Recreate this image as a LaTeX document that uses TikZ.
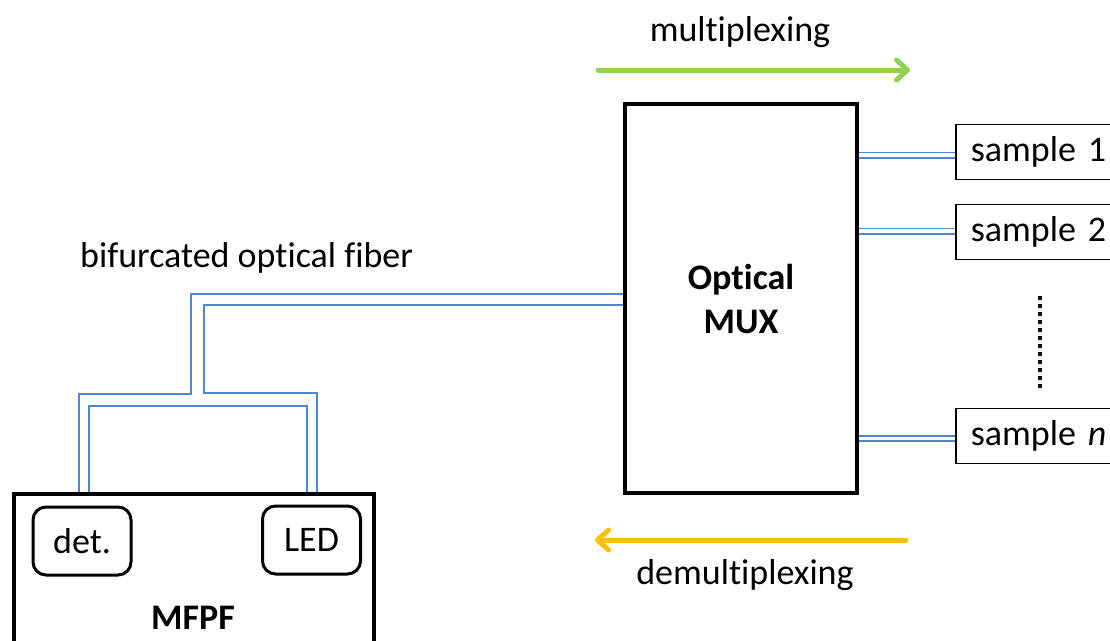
\documentclass[tikz,border=0pt]{standalone}
\usepackage{fontspec}
\setmainfont{Carlito}[Ligatures=NoCommon]
\usetikzlibrary{arrows.meta,calc}
\definecolor{fiberBlue}{RGB}{79,134,206}
\definecolor{muxGreen}{RGB}{146,208,80}
\definecolor{demuxOrange}{RGB}{255,192,0}
\tikzset{
  fiber/.style={draw=fiberBlue, line width=1.9pt},
  fiberpair/.style={draw=fiberBlue, line width=1.9pt, double=white, double distance=3.2pt},
  bigbox/.style={draw, line width=4pt},
  samplebox/.style={draw, line width=1.6pt, anchor=west, text width=140pt, align=left,
                    inner xsep=15pt, inner ysep=0pt, minimum height=55pt},
  partbox/.style={draw, line width=3pt, rounded corners=13pt,
                  minimum width=98pt, minimum height=68pt},
  flow/.style={line width=5pt, line cap=round,
               -{Straight Barb[length=11pt, width=20pt, line cap=round, line join=round]}},
}

\begin{document}
\fontsize{36}{44}\selectfont
\begin{tikzpicture}[x=1pt,y=-1pt, every node/.style={inner sep=0pt}]
\useasboundingbox (0,0) rectangle (1110,640);
\clip (0,0) rectangle (1110,640);
% boxes
\node[bigbox, minimum width=232pt, minimum height=389pt, align=center, font=\bfseries]
      (mux) at (741,298.5) {Optical\\MUX};
\node[bigbox, minimum width=360pt, minimum height=206pt] (mfpf) at (194,597) {};
\node[font=\bfseries] (mfpftxt) at (193,618) {MFPF};
\node[partbox] (det) at (82,541) {det.};
\node[partbox] (led) at (311.5,540) {LED};
% samples
\node[samplebox] (s1) at (955,152) {sample 1};
\node[samplebox] (s2) at (955,232) {sample 2};
\node[samplebox] (sn) at (955,436) {sample \textit{n}};
\coordinate (dotA) at (1040,296);
\coordinate (dotB) at (1040,390);
\draw[line width=4.5pt, dash pattern=on 4pt off 4pt] (dotA) -- (dotB);
% fibers to samples
\draw[fiberpair] ($(mux.east |- s1.west)+(0,3)$) -- ($(s1.west)+(0,3)$);
\draw[fiberpair] ($(mux.east |- s2.west)+(0,-1)$) -- ($(s2.west)+(0,-1)$);
\draw[fiberpair] ($(mux.east |- sn.west)+(0,2.5)$) -- ($(sn.west)+(0,2.5)$);
% bifurcated fiber
\coordinate (legA) at ($(mfpf.north)+(-115,0)$);
\coordinate (legB) at ($(mfpf.north)+(-105,0)$);
\coordinate (legC) at ($(mfpf.north)+(113,0)$);
\coordinate (legD) at ($(mfpf.north)+(123,0)$);
\draw[fiber] ($(mux.west)+(0,-4.5)$) -| (191,394) -| (legA);
\draw[fiber] ($(mux.west)+(0,6.5)$) -| (204,393) -| (legD);
\draw[fiber] (legB) |- (307,406) -- (legC);
\node[anchor=west] (fibertxt) at (80,258) {bifurcated optical fiber};
% direction arrows
\coordinate (mxA) at (598,70);
\coordinate (mxB) at (910,70);
\coordinate (dmA) at (906,540);
\coordinate (dmB) at (595,540);
\draw[flow, muxGreen] (mxA) -- (mxB);
\draw[flow, demuxOrange] (dmA) -- (dmB);
\node (mxtxt) at (740,32) {multiplexing};
\node (dmtxt) at (745,575) {demultiplexing};
\end{tikzpicture}
\end{document}
